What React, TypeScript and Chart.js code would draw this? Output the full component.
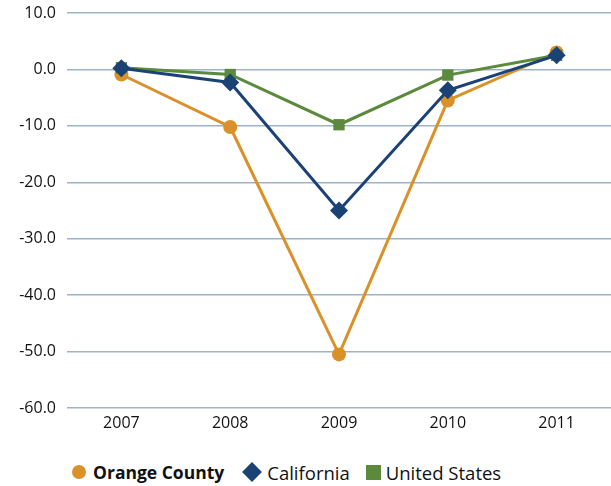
import React, { useEffect, useRef } from "react";
import { Chart, registerables } from "chart.js";

Chart.register(...registerables);

const years = ["2007", "2008", "2009", "2010", "2011"];
const orangeCounty = [-0.9, -10.2, -50.5, -5.5, 3.0];
const california = [0.2, -2.3, -25.0, -3.7, 2.5];
const unitedStates = [0.3, -0.9, -9.8, -1.0, 2.5];

const ORANGE = "#DA9129";
const BLUE = "#1B4275";
const GREEN = "#5B8A3C";
const FONT = "'Open Sans', 'Noto Sans', sans-serif";

export default function App() {
  const ref = useRef<HTMLCanvasElement | null>(null);

  useEffect(() => {
    const ctx = ref.current!;
    const chart = new Chart(ctx, {
      type: "line",
      data: {
        labels: years,
        datasets: [
          {
            label: "Orange County",
            data: orangeCounty,
            borderColor: ORANGE,
            backgroundColor: ORANGE,
            borderWidth: 3,
            pointStyle: "circle",
            pointRadius: 7,
            pointBorderWidth: 0,
            order: 2,
            tension: 0,
            clip: false,
          },
          {
            label: "California",
            data: california,
            borderColor: BLUE,
            backgroundColor: BLUE,
            borderWidth: 3,
            pointStyle: "rectRot",
            pointRadius: 9,
            pointBorderWidth: 0,
            order: 0,
            tension: 0,
            clip: false,
          },
          {
            label: "United States",
            data: unitedStates,
            borderColor: GREEN,
            backgroundColor: GREEN,
            borderWidth: 3,
            pointStyle: "rect",
            pointRadius: 8,
            pointBorderWidth: 0,
            order: 1,
            tension: 0,
            clip: false,
          },
        ],
      },
      options: {
        animation: false,
        responsive: false,
        maintainAspectRatio: false,
        layout: { autoPadding: false, padding: { top: 13, right: 0, bottom: 0, left: 0 } },
        plugins: { legend: { display: false }, tooltip: { enabled: false } },
        scales: {
          x: {
            grid: { display: false, drawTicks: false },
            border: { display: false },
            offset: true,
            ticks: { color: "#111", font: { family: FONT, size: 16 }, padding: 6 },
            afterFit: (s: any) => {
              s.height = 42;
              s.paddingLeft = 0;
              s.paddingRight = 0;
            },
          },
          y: {
            min: -60,
            max: 10,
            grid: { color: "#9DB3C9", lineWidth: 1.5, drawTicks: false },
            border: { display: false },
            ticks: {
              stepSize: 10,
              color: "#111",
              font: { family: FONT, size: 16 },
              padding: 11,
              callback: (v: any) => Number(v).toFixed(1),
            },
            afterFit: (s: any) => {
              s.width = 67;
              s.paddingTop = 0;
              s.paddingBottom = 0;
            },
          },
        },
      },
    });
    return () => chart.destroy();
  }, []);

  const item = (marker: React.ReactNode, text: string, bold: boolean, gap: number, after: number) => (
    <div style={{ display: "flex", alignItems: "center", marginRight: after }}>
      {marker}
      <span style={{ fontWeight: bold ? 700 : 400, fontSize: bold ? 17.5 : 18.5, marginLeft: gap }}>{text}</span>
    </div>
  );

  return (
    <div style={{ position: "absolute", left: 0, top: 0, width: 611, height: 486, background: "#fff", overflow: "hidden" }}>
      <canvas ref={ref} width={611} height={450} style={{ display: "block" }} />
      <div
        style={{
          position: "absolute",
          left: 72,
          top: 458,
          height: 28,
          display: "flex",
          alignItems: "center",
          fontFamily: FONT,
          color: "#111",
          whiteSpace: "nowrap",
        }}
      >
        {item(
          <div style={{ width: 14, height: 14, borderRadius: "50%", background: ORANGE }} />,
          "Orange County",
          true,
          7,
          18
        )}
        {item(
          <div style={{ width: 20, height: 20, display: "flex", alignItems: "center", justifyContent: "center" }}>
            <div style={{ width: 14, height: 14, background: BLUE, transform: "rotate(45deg)" }} />
          </div>,
          "California",
          false,
          5,
          16
        )}
        {item(<div style={{ width: 15, height: 15, background: GREEN }} />, "United States", false, 5, 0)}
      </div>
    </div>
  );
}
